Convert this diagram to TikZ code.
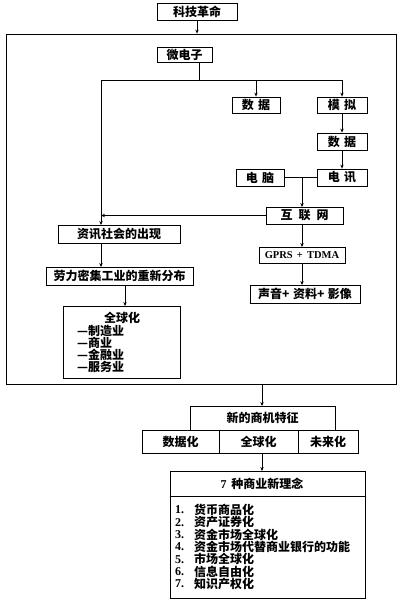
\documentclass[tikz,border=0pt]{standalone}
\usepackage{fontspec}
\setmainfont{Liberation Serif}
\newfontfamily\cjk{Noto Sans CJK SC}
\usetikzlibrary{arrows.meta}
\newcommand{\lat}[1]{{\rmfamily\bfseries #1}}
\tikzset{
  box/.style={draw, line width=0.8pt, inner sep=0pt, font=\cjk\bfseries\fontsize{12}{13}\selectfont},
  txt/.style={inner sep=0pt, font=\cjk\bfseries\fontsize{12}{13}\selectfont},
  ln/.style={line width=0.7pt},
  arr/.style={line width=0.7pt, -{Stealth[length=4pt,width=3.4pt]}},
}
\begin{document}
\begin{tikzpicture}[x=1pt,y=-1pt]
\useasboundingbox (0,0) rectangle (400,603);
% frame
\node[draw, line width=0.8pt, minimum width=390pt, minimum height=350pt, inner sep=0pt] (frame) at (201,209) {};
% boxes
\node[box, minimum width=80pt, minimum height=17pt] (kj) at (197,11.5) {科技革命};
\node[box, minimum width=55pt, minimum height=15pt] (wdz) at (184.5,54.5) {微电子};
\node[box, minimum width=48pt, minimum height=16pt] (sj1) at (256,105) {数\hspace{0.35em}据};
\node[box, minimum width=50pt, minimum height=16pt] (mn) at (342,105) {模\hspace{0.35em}拟};
\node[box, minimum width=50pt, minimum height=17pt] (sj2) at (342,141.5) {数\hspace{0.35em}据};
\node[box, minimum width=48pt, minimum height=17pt] (dn) at (260,177.5) {电\hspace{0.35em}脑};
\node[box, minimum width=50pt, minimum height=17pt] (dx) at (342,177.5) {电\hspace{0.35em}讯};
\node[box, minimum width=77pt, minimum height=17pt] (hlw) at (304.5,215.5) {互\hspace{0.5em}联\hspace{0.5em}网};
\node[box, minimum width=122pt, minimum height=18pt] (zx) at (119,234) {资讯社会的出现};
\node[box, minimum width=147pt, minimum height=18pt] (ll) at (119.5,276) {劳力密集工业的重新分布};
\node[box, minimum width=86pt, minimum height=16pt, font=\rmfamily\bfseries\fontsize{10.5}{12}\selectfont] (gprs) at (302,255) {GPRS\hspace{0.4em}+\hspace{0.4em}TDMA};
\node[box, minimum width=110pt, minimum height=18pt] (sy) at (305,294) {声音+\hspace{0.3em}资料+\hspace{0.3em}影像};
\node[box, minimum width=117pt, minimum height=72pt] (qqh) at (121.5,342) {};
\node[txt] (qqt) at (122,318) {全球化};
\node[txt, anchor=west] (q1) at (77,331) {—制造业};
\node[txt, anchor=west] (q2) at (77,343) {—商业};
\node[txt, anchor=west] (q3) at (77,355) {—金融业};
\node[txt, anchor=west] (q4) at (77,367) {—服务业};
% lower part
\node[box, minimum width=145pt, minimum height=24pt] (xd) at (262.5,418) {新的商机特征};
\node[box, minimum width=77pt, minimum height=23pt] (sjh) at (180.5,441.5) {数据化};
\node[box, minimum width=79pt, minimum height=23pt] (qq2) at (258.5,441.5) {全球化};
\node[box, minimum width=60pt, minimum height=23pt] (wl) at (328,441.5) {未来化};
\node[box, minimum width=195pt, minimum height=127pt] (seven) at (267.5,534.5) {};
\coordinate (divl) at (170,496);
\coordinate (divr) at (365,496);
\draw[line width=0.8pt] (divl) -- (divr);
\node[txt] (st) at (262,483.5) {\lat{7}\hspace{0.4em}种商业新理念};
\foreach \i/\t/\y in {1/货币商品化/510, 2/资产证券化/522.3, 3/资金市场全球化/534.6, 4/资金市场代替商业银行的功能/546.9, 5/市场全球化/559.2, 6/信息自由化/571.5, 7/知识产权化/583.8}{
  \node[txt, anchor=west] (n\i) at (175,\y) {\lat{\i.}};
  \node[txt, anchor=west] (t\i) at (194,\y) {\t};
}
% connectors
\draw[arr] (kj) -- (kj.south |- frame.north);
\coordinate (w0) at (199,62);
\coordinate (w1) at (199,80);
\coordinate (hl) at (101,80);
\coordinate (hr) at (342,80);
\coordinate (hs) at (256,80);
\draw[ln] (w0) -- (w1);
\draw[ln] (hl) -- (hr);
\draw[arr] (hs) -- (sj1);
\draw[arr] (hr) -- (mn);
\coordinate (zxt) at (101,225);
\draw[arr] (hl) -- (zxt);
\draw[arr] (mn) -- (sj2);
\draw[arr] (sj2) -- (dx);
\draw[ln] (dn) -- (dx);
\coordinate (j1) at (302,177.5);
\coordinate (j2) at (302,207);
\draw[arr] (j1) -- (j2);
\coordinate (j3) at (101,215.5);
\draw[arr] (hlw.west) -- (j3);
\coordinate (g1) at (302,224);
\coordinate (g2) at (302,247);
\draw[arr] (g1) -- (g2);
\coordinate (g3) at (302,263);
\coordinate (g4) at (302,285);
\draw[arr] (g3) -- (g4);
\coordinate (z1) at (101,243);
\coordinate (z2) at (101,267);
\draw[arr] (z1) -- (z2);
\coordinate (l1) at (125,285);
\coordinate (l2) at (125,306);
\draw[arr] (l1) -- (l2);
\coordinate (f1) at (262,384);
\coordinate (f2) at (262,406);
\draw[arr] (f1) -- (f2);
\coordinate (s1) at (262,453);
\coordinate (s2) at (262,471);
\draw[arr] (s1) -- (s2);
\end{tikzpicture}
\end{document}
